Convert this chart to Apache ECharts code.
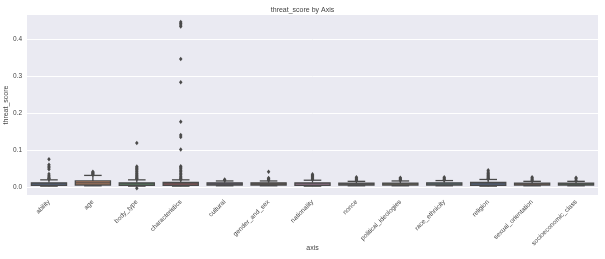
<!DOCTYPE html>
<html><head><meta charset="utf-8">
<script src="https://cdn.jsdelivr.net/npm/echarts@6/dist/echarts.min.js"></script>
<style>html,body{margin:0;padding:0;background:#fff}#c{width:605px;height:259px}</style>
</head><body><div id="c"></div>
<script>
var categories = ['ability','age','body_type','characteristics','cultural','gender_and_sex','nationality','nonce','political_ideologies','race_ethnicity','religion','sexual_orientation','socioeconomic_class'];
// [whisker low, q1, median, q3, whisker high]
var boxStats = [
  [0.003,0.005,0.009,0.012,0.020],
  [0.004,0.006,0.012,0.017,0.032],
  [0.003,0.005,0.009,0.012,0.020],
  [0.003,0.005,0.009,0.013,0.020],
  [0.004,0.006,0.009,0.012,0.017],
  [0.004,0.006,0.009,0.012,0.017],
  [0.003,0.005,0.009,0.012,0.019],
  [0.004,0.006,0.009,0.011,0.016],
  [0.004,0.006,0.009,0.011,0.017],
  [0.004,0.006,0.009,0.012,0.018],
  [0.003,0.005,0.009,0.013,0.021],
  [0.004,0.006,0.009,0.011,0.016],
  [0.004,0.006,0.009,0.011,0.016]
];
var outliers = [
  [0.076,0.061,0.057,0.053,0.049,0.036,0.031,0.028,0.025,0.023,0.022],
  [0.034,0.036,0.038,0.040,0.042],
  [0.120,0.056,0.053,0.050,0.047,0.044,0.041,0.038,0.035,0.032,0.029,0.026,0.024,0.022,-0.003],
  [0.447,0.443,0.439,0.435,0.347,0.284,0.177,0.141,0.136,0.102,0.057,0.054,0.050,0.046,0.042,0.038,0.034,0.030,0.026,0.023,0.021],
  [0.019,0.021],
  [0.042,0.025,0.023,0.021,0.019],
  [0.035,0.032,0.029,0.026,0.023,0.021],
  [0.027,0.024,0.021,0.018],
  [0.026,0.023,0.020,0.019],
  [0.027,0.024,0.021,0.019],
  [0.046,0.041,0.038,0.035,0.032,0.029,0.026,0.024,0.022],
  [0.027,0.024,0.021,0.018],
  [0.026,0.023,0.019]
];
var yTicks = [0, 0.1, 0.2, 0.3, 0.4];
var palette = ['#5875a4','#cc8963','#5f9e6e','#b55d60','#857aab','#8d7866','#d095bf','#8c8c8c','#c1b37f','#71aec0'];

var lineColor = '#4a4a4a';
var textColor = '#444';
var font = 'Liberation Sans';

var boxData = boxStats.map(function(s, i){ return [i].concat(s); });
var outData = [];
outliers.forEach(function(arr, i){ arr.forEach(function(v){ outData.push([i, v]); }); });

var chart = echarts.init(document.getElementById('c'));
chart.setOption({
  backgroundColor: '#fff',
  animation: false,
  title: { text: 'threat_score by Axis', left: 'center', top: 2,
    textStyle: { fontFamily: font, fontSize: 7, fontWeight: 'normal', color: textColor } },
  grid: { left: 27, right: 7, top: 15, bottom: 64, backgroundColor: '#eaeaf2', show: true, borderWidth: 0,
    containLabel: false, outerBoundsMode: 'none' },
  xAxis: {
    type: 'category', data: categories, name: 'axis', nameLocation: 'middle', nameGap: 50,
    nameMoveOverlap: false,
    nameTextStyle: { fontFamily: font, fontSize: 7, color: textColor },
    axisLine: { show: false }, axisTick: { show: false }, splitLine: { show: false },
    axisLabel: { rotate: 45, fontFamily: font, fontSize: 6.5, color: textColor, margin: 6, interval: 0 }
  },
  yAxis: {
    type: 'value', min: -0.021, max: 0.466,
    name: 'threat_score', nameLocation: 'middle', nameGap: 17,
    nameMoveOverlap: false,
    nameTextStyle: { fontFamily: font, fontSize: 7, color: textColor },
    axisLine: { show: false },
    axisTick: { show: false, customValues: yTicks },
    axisLabel: { customValues: yTicks, fontFamily: font, fontSize: 6.5, color: textColor, margin: 5,
      formatter: function(v){ return v.toFixed(1); } },
    splitLine: { show: true, lineStyle: { color: '#fff', width: 1 } }
  },
  series: [
    {
      type: 'custom',
      data: boxData,
      encode: { x: 0, y: [1,2,3,4,5] },
      z: 2,
      renderItem: function(params, api){
        var i = api.value(0);
        var lo = api.coord([i, api.value(1)]);
        var q1 = api.coord([i, api.value(2)]);
        var md = api.coord([i, api.value(3)]);
        var q3 = api.coord([i, api.value(4)]);
        var hi = api.coord([i, api.value(5)]);
        var band = api.size([1, 0])[0];
        var w = band * 0.8, cw = w * 0.5;
        var cx = q1[0];
        var ls = { stroke: lineColor, lineWidth: 1.3 };
        return { type: 'group', children: [
          { type: 'line', shape: { x1: cx, y1: q3[1], x2: cx, y2: hi[1] }, style: ls },
          { type: 'line', shape: { x1: cx, y1: q1[1], x2: cx, y2: lo[1] }, style: ls },
          { type: 'line', shape: { x1: cx - cw/2, y1: hi[1], x2: cx + cw/2, y2: hi[1] }, style: ls },
          { type: 'line', shape: { x1: cx - cw/2, y1: lo[1], x2: cx + cw/2, y2: lo[1] }, style: ls },
          { type: 'rect', shape: { x: cx - w/2, y: q3[1], width: w, height: q1[1] - q3[1] },
            style: { fill: palette[i % palette.length], stroke: lineColor, lineWidth: 1.3 } },
          { type: 'line', shape: { x1: cx - w/2, y1: md[1], x2: cx + w/2, y2: md[1] }, style: ls }
        ]};
      }
    },
    {
      type: 'scatter', data: outData, symbol: 'diamond', symbolSize: [3.5, 4.5], z: 3,
      itemStyle: { color: '#4a4a4a', opacity: 1 }
    }
  ]
});
</script></body></html>
